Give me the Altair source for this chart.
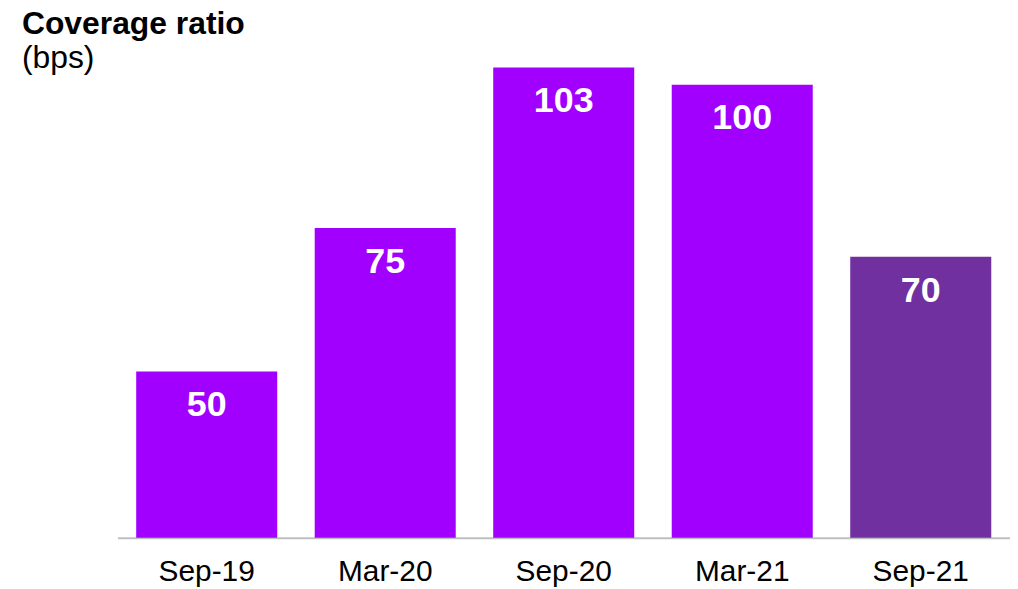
import altair as alt
import pandas as pd

periods = ["Sep-19", "Mar-20", "Sep-20", "Mar-21", "Sep-21"]
values = [50, 75, 103, 100, 70]
colors = ["#A100FF", "#A100FF", "#A100FF", "#A100FF", "#7030A0"]
axis_base = 21

df = pd.DataFrame({"period": periods, "value": values, "color": colors})
df["base"] = axis_base

FONT = "Liberation Sans"

x = alt.X("period:N", sort=periods, title=None,
          scale=alt.Scale(paddingInner=0.21, paddingOuter=0.105),
          axis=alt.Axis(labelAngle=0, labelFontSize=30, labelFont=FONT, labelColor="#000000",
                        labelBaseline="alphabetic", ticks=False, labelPadding=43,
                        domainColor="#BFBFBF", domainWidth=2))
y = alt.Y("value:Q", scale=alt.Scale(domain=[axis_base, 110], zero=False, nice=False), axis=None)

bars = alt.Chart(df).mark_bar().encode(
    x=x, y=y, y2="base:Q", color=alt.Color("color:N", scale=None)
)
labels = alt.Chart(df).mark_text(
    baseline="alphabetic", dy=45, fontSize=36, fontWeight="bold", color="white", font=FONT
).encode(x=alt.X("period:N", sort=periods), y="value:Q", text="value:Q")

chart = (bars + labels).properties(
    width=897, height=513,
    autosize=alt.AutoSizeParams(type="none"),
    padding={"left": 110, "top": 18, "right": 0, "bottom": 50},
    title=alt.TitleParams(
        text="Coverage ratio", subtitle="(bps)", anchor="start", frame="group",
        font=FONT, fontSize=32, fontWeight="bold", color="#000000",
        subtitleFont=FONT, subtitleFontSize=32, subtitleColor="#000000",
        subtitlePadding=2, dx=-96, dy=48, offset=0
    ),
).configure_view(stroke=None)

chart.save("out.html", embed_options={"renderer": "svg", "actions": False})
